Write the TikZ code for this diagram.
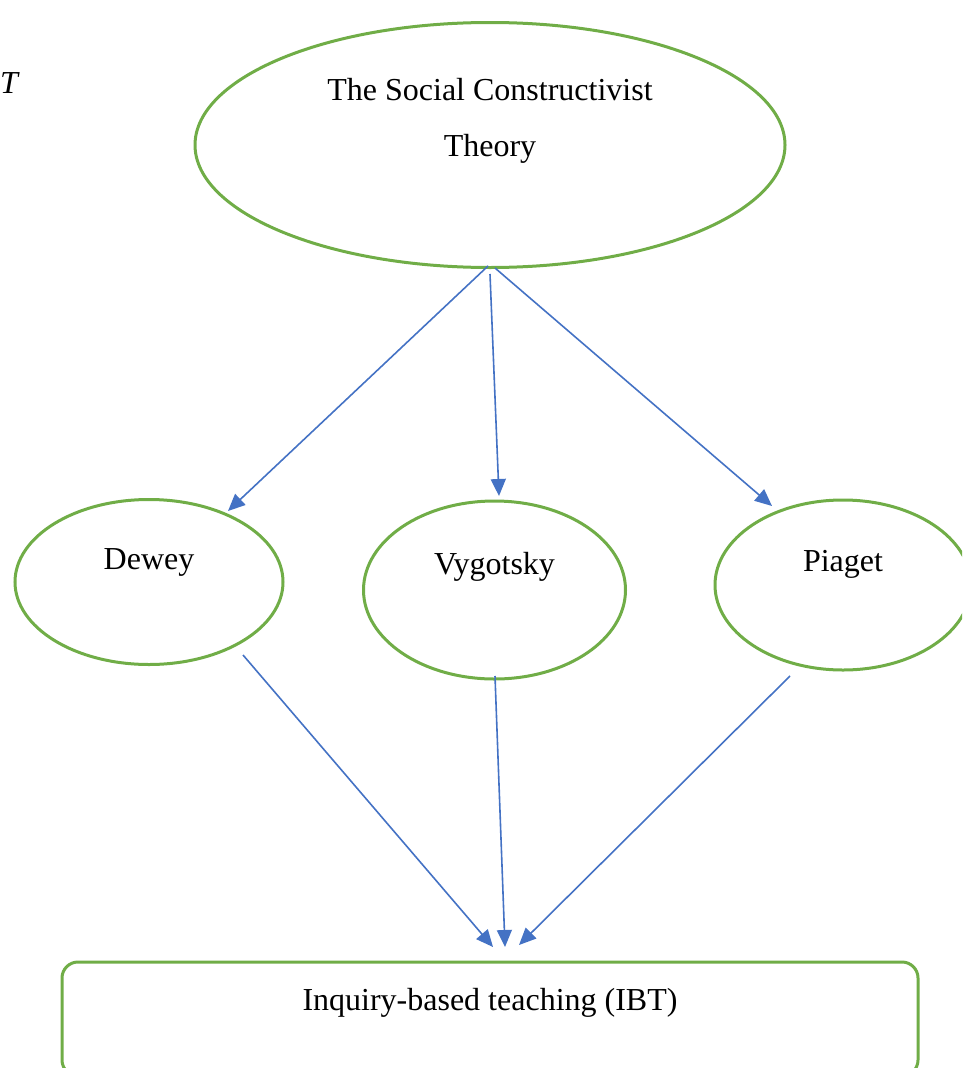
\documentclass[tikz,border=0pt]{standalone}
\usepackage{fontspec}
\setmainfont{Liberation Serif}
\usetikzlibrary{shapes.geometric,arrows.meta,calc}
\definecolor{wgreen}{RGB}{112,173,71}
\definecolor{wblue}{RGB}{68,114,196}
\begin{document}
\begin{tikzpicture}[x=1pt,y=-1pt,
  ell/.style={ellipse, draw=wgreen, line width=3pt, inner sep=0pt, text height=0pt, text depth=0pt, font=\fontsize{32}{56}\selectfont},
  boxnode/.style={rectangle, draw=wgreen, line width=3pt, rounded corners=16pt, inner sep=0pt, text height=0pt, text depth=0pt, font=\fontsize{32}{56}\selectfont},
  conn/.style={draw=wblue, line width=1.6pt, -{Triangle[length=17pt,width=15pt]}}]
\useasboundingbox (0,0) rectangle (962,1068);
\clip (0,0) rectangle (962,1068);
\node[anchor=base west, inner sep=0pt, font=\fontsize{32}{38}\selectfont\itshape] (t) at (0,93) {T};
\node[ell, minimum width=590pt, minimum height=245pt] (top) at (490,145)
  {\raisebox{-11pt}{\begin{tabular}[b]{@{}c@{}}The Social Constructivist\\Theory\end{tabular}}};
\node[ell, minimum width=268pt, minimum height=165pt] (dewey) at (149,582) {\raisebox{13pt}{Dewey}};
\node[ell, minimum width=262pt, minimum height=178pt] (vyg) at (494.5,590) {\raisebox{16pt}{Vygotsky}};
\node[ell, minimum width=256pt, minimum height=170pt] (piaget) at (843,585) {\raisebox{14pt}{Piaget}};
\node[boxnode, minimum width=856pt, minimum height=114pt] (ibt) at (490,1019) {\raisebox{9pt}{Inquiry-based teaching (IBT)}};
\draw[conn] ($(top.center)+(-2,121)$) -- ($(dewey.center)+(79,-71)$);
\draw[conn] ($(top.center)+(0,129)$) -- ($(vyg.center)+(4.5,-94)$);
\draw[conn] ($(top.center)+(5,123)$) -- ($(piaget.center)+(-71,-79)$);
\draw[conn] ($(dewey.center)+(94,73)$) -- ($(ibt.center)+(3,-72)$);
\draw[conn] ($(vyg.center)+(0.5,86)$) -- ($(ibt.center)+(15,-72)$);
\draw[conn] ($(piaget.center)+(-53,91)$) -- ($(ibt.center)+(29,-74)$);
\end{tikzpicture}
\end{document}
